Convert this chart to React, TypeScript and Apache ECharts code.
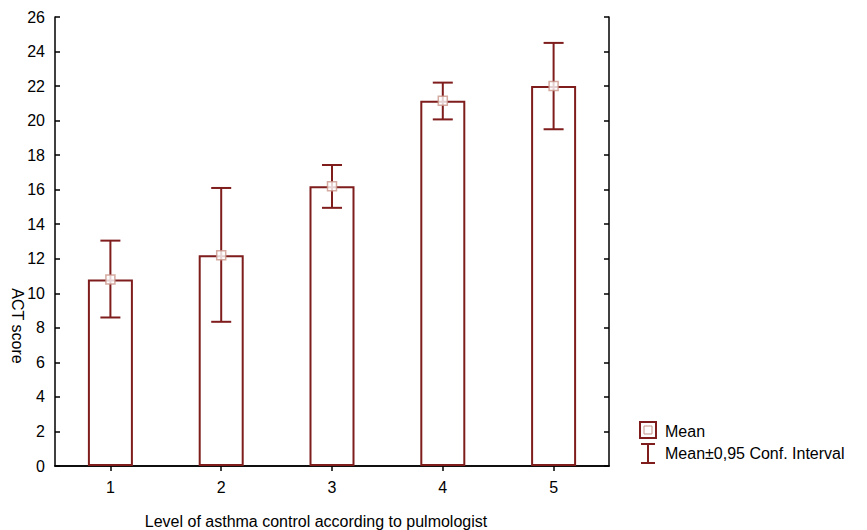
import React, { useEffect, useRef } from "react";
import * as echarts from "echarts";

const categories = ["1", "2", "3", "4", "5"];
const means = [10.8, 12.2, 16.2, 21.15, 22.0];
const ciLow = [8.6, 8.35, 14.95, 20.07, 19.5];
const ciHigh = [13.05, 16.1, 17.43, 22.2, 24.5];
const yTicks = { min: 0, max: 26, interval: 2 };
const xTitle = "Level of asthma control according to pulmologist";
const yTitle = "ACT score";
const legendMean = "Mean";
const legendCI = "Mean±0,95 Conf. Interval";

const RED = "#7f1d1d";
const FONT = "'Liberation Sans', Arial, sans-serif";

export default function App() {
  const ref = useRef<HTMLDivElement>(null);
  useEffect(() => {
    const chart = echarts.init(ref.current!, null, { renderer: "svg" });
    const axisLine = { show: true, lineStyle: { color: "#000", width: 1.5 } };
    const tick = { show: true, inside: true, length: 5, lineStyle: { color: "#000", width: 1.5 } };
    const errData = categories.map((c, i) => [i, ciLow[i], ciHigh[i]]);
    chart.setOption({
      animation: false,
      backgroundColor: "#fff",
      grid: { left: 55, right: 258, top: 17, bottom: 64 },
      xAxis: [
        {
          type: "category",
          data: categories,
          axisLine,
          axisTick: { ...tick, alignWithLabel: true },
          axisLabel: { color: "#000", fontSize: 16, fontFamily: FONT, margin: 13 },
          splitLine: { show: false },
        },
        {
          type: "category",
          data: categories,
          position: "top",
          axisLine,
          axisTick: { ...tick, alignWithLabel: true },
          axisLabel: { show: false },
        },
      ],
      yAxis: [
        {
          type: "value",
          min: yTicks.min,
          max: yTicks.max,
          interval: yTicks.interval,
          axisLine,
          axisTick: tick,
          axisLabel: { color: "#000", fontSize: 16, fontFamily: FONT, margin: 10 },
          splitLine: { show: false },
        },
        {
          type: "value",
          position: "right",
          min: yTicks.min,
          max: yTicks.max,
          interval: yTicks.interval,
          axisLine,
          axisTick: tick,
          axisLabel: { show: false },
          splitLine: { show: false },
        },
      ],
      series: [
        {
          type: "bar",
          data: means,
          barWidth: 45,
          itemStyle: { color: "#fff", borderColor: RED, borderWidth: 2 },
          z: 2,
        },
        {
          type: "custom",
          data: errData,
          z: 3,
          renderItem: (params: any, api: any) => {
            const x = api.value(0);
            const lo = api.coord([x, api.value(1)]);
            const hi = api.coord([x, api.value(2)]);
            const hw = 10;
            const style = { stroke: RED, lineWidth: 2 };
            return {
              type: "group",
              children: [
                { type: "line", shape: { x1: lo[0], y1: lo[1], x2: hi[0], y2: hi[1] }, style },
                { type: "line", shape: { x1: hi[0] - hw, y1: hi[1], x2: hi[0] + hw, y2: hi[1] }, style },
                { type: "line", shape: { x1: lo[0] - hw, y1: lo[1], x2: lo[0] + hw, y2: lo[1] }, style },
              ],
            };
          },
        },
        {
          type: "scatter",
          data: means,
          symbol: "rect",
          symbolSize: 9,
          itemStyle: { color: "#fff", borderColor: "#c9958a", borderWidth: 1.5 },
          z: 4,
        },
      ],
      graphic: [
        {
          type: "text",
          x: 17,
          y: 326,
          rotation: -Math.PI / 2,
          style: { text: yTitle, font: `16px ${FONT}`, fill: "#000", align: "center", verticalAlign: "middle" },
        },
        {
          type: "text",
          x: 316,
          y: 521,
          style: { text: xTitle, font: `16px ${FONT}`, fill: "#000", align: "center", verticalAlign: "middle" },
        },
        { type: "rect", shape: { x: 640, y: 422, width: 16, height: 16 }, style: { fill: "#fff", stroke: RED, lineWidth: 2 } },
        { type: "rect", shape: { x: 644, y: 426, width: 8, height: 8 }, style: { fill: "#fff", stroke: "#c9958a", lineWidth: 1 } },
        { type: "line", shape: { x1: 648, y1: 444, x2: 648, y2: 463 }, style: { stroke: RED, lineWidth: 2 } },
        { type: "line", shape: { x1: 641, y1: 444, x2: 655, y2: 444 }, style: { stroke: RED, lineWidth: 2 } },
        { type: "line", shape: { x1: 641, y1: 463, x2: 655, y2: 463 }, style: { stroke: RED, lineWidth: 2 } },
        { type: "text", x: 665, y: 431, style: { text: legendMean, font: `16px ${FONT}`, fill: "#000", verticalAlign: "middle" } },
        { type: "text", x: 665, y: 453, style: { text: legendCI, font: `16px ${FONT}`, fill: "#000", verticalAlign: "middle" } },
      ],
    });
    return () => chart.dispose();
  }, []);
  return <div ref={ref} style={{ width: 867, height: 530, position: "absolute", left: 0, top: 0 }} />;
}
